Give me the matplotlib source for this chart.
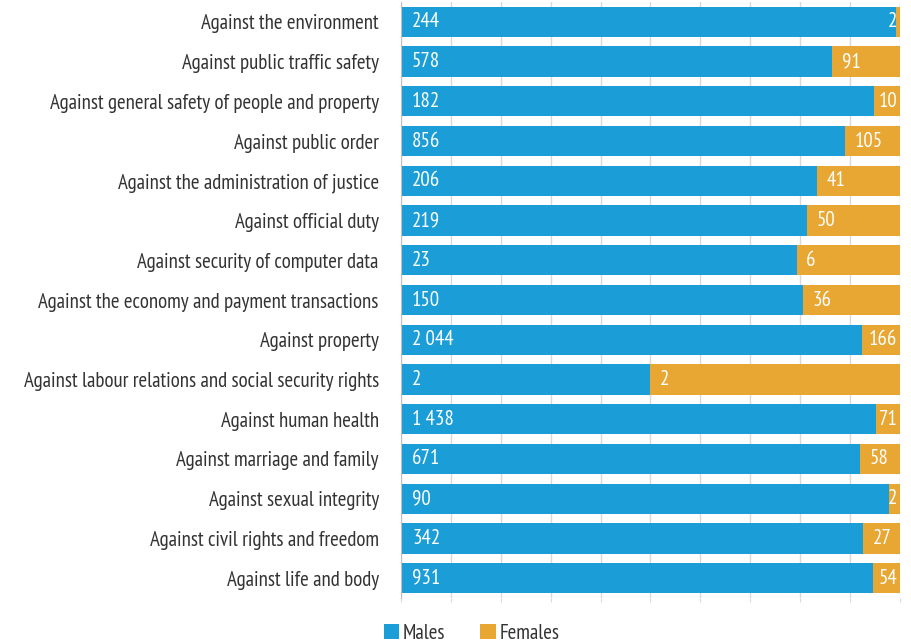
import numpy as np
import matplotlib.pyplot as plt
from matplotlib import font_manager as fm

categories = ['Against the environment', 'Against public traffic safety',
              'Against general safety of people and property', 'Against public order',
              'Against the administration of justice', 'Against official duty',
              'Against security of computer data', 'Against the economy and payment transactions',
              'Against property', 'Against labour relations and social security rights',
              'Against human health', 'Against marriage and family', 'Against sexual integrity',
              'Against civil rights and freedom', 'Against life and body']
males = [244, 578, 182, 856, 206, 219, 23, 150, 2044, 2, 1438, 671, 90, 342, 931]
females = [2, 91, 10, 105, 41, 50, 6, 36, 166, 2, 71, 58, 2, 27, 54]

# narrow face like the original (falls back if missing)
fam, fs = 'DejaVu Sans', 11
names = {f.name for f in fm.fontManager.ttflist}
pt = [p for p in fm.findSystemFonts()
      if 'ptsans' in p.lower().replace('_', '').replace('-', '') and 'narrow' in p.lower()
      and 'bold' not in p.lower()]
if pt:
    fm.fontManager.addfont(pt[0])
    fam, fs = fm.FontProperties(fname=pt[0]).get_name(), 15
elif 'Liberation Sans Narrow' in names:
    fam, fs = 'Liberation Sans Narrow', 14
plt.rcParams['font.family'] = [fam, 'DejaVu Sans']

m = np.array(males, float)
f = np.array(females, float)
tot = m + f
mp = m / tot * 100
fp = f / tot * 100
y = np.arange(len(categories))

blue = '#1b9ed8'
orange = '#e8a633'

fig = plt.figure(figsize=(9.12, 6.42), dpi=100)
ax = fig.add_axes([0.4397, 0.0685, 0.5471, 0.9284])
ax.barh(y, mp, height=0.76, color=blue, label='Males', zorder=2)
ax.barh(y, fp, left=mp, height=0.76, color=orange, label='Females', zorder=2)

def fmt(v):
    return f'{v:,}'.replace(',', '\u2009') if v >= 1000 else str(v)

ax.set_xlim(0, 100)
ax.set_ylim(14.5, -0.5)

fig.canvas.draw()
r = fig.canvas.get_renderer()
for i in range(len(y)):
    ax.text(2.2, y[i], fmt(males[i]), color='white', fontsize=fs, va='center', ha='left', zorder=3)
    t = ax.text(mp[i] + 1.9, y[i], fmt(females[i]), color='white', fontsize=fs,
                va='center', ha='left', zorder=3)
    bb = t.get_window_extent(r)
    xr = ax.transData.inverted().transform((bb.x1, bb.y0))[0]
    if xr > 99.5:
        t.set_x(99.5)
        t.set_ha('right')

ax.set_xticks(np.arange(0, 101, 10))
ax.set_xticklabels([])
ax.grid(axis='x', color='#d9d9d9', lw=1, zorder=0)
ax.set_yticks(y)
ax.set_yticklabels(categories, fontsize=fs, color='#333333')
ax.tick_params(axis='y', length=0, pad=16)
ax.tick_params(axis='x', length=3, color='#d9d9d9')
for s in ['top', 'right', 'bottom']:
    ax.spines[s].set_visible(False)
ax.spines['left'].set_color('#bfbfbf')

fig.legend(loc='lower center', bbox_to_anchor=(0.517, -0.03), ncol=2, frameon=False,
           fontsize=fs, handlelength=0.75, handleheight=0.75, handletextpad=0.15,
           columnspacing=1.7, labelcolor='#333333')
fig.savefig('out.png', dpi=100)
